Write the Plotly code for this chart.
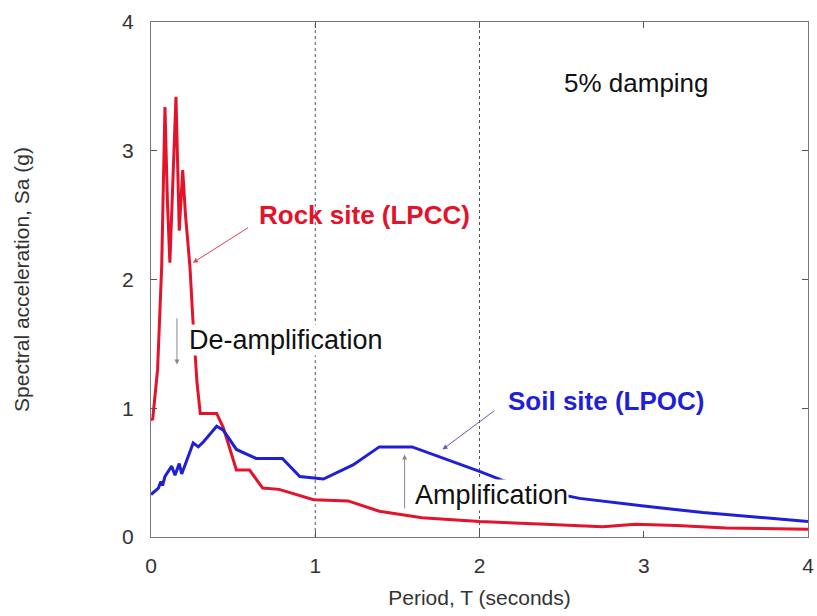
import plotly.graph_objects as go

# Rock site (LPCC) spectrum
T_rock = [0.0, 0.01, 0.04, 0.065, 0.085, 0.10, 0.115, 0.135, 0.152, 0.172, 0.193, 0.21, 0.237,
          0.255, 0.28, 0.30, 0.40, 0.44, 0.52, 0.60, 0.68, 0.78, 0.99, 1.2, 1.39, 1.65,
          2.0, 2.4, 2.75, 2.95, 3.2, 3.5, 4.0]
Sa_rock = [0.92, 0.91, 1.3, 2.1, 3.34, 2.6, 2.13, 2.9, 3.42, 2.38, 2.85, 2.5, 2.1,
           1.69, 1.2, 0.96, 0.96, 0.85, 0.52, 0.52, 0.38, 0.37, 0.29, 0.28, 0.20, 0.15,
           0.12, 0.10, 0.08, 0.10, 0.09, 0.07, 0.06]

# Soil site (LPOC) spectrum
T_soil = [0.0, 0.01, 0.045, 0.06, 0.07, 0.085, 0.095, 0.126, 0.146, 0.172, 0.187, 0.257, 0.288,
          0.32, 0.40, 0.44, 0.52, 0.64, 0.80, 0.906, 1.05, 1.23, 1.39, 1.59, 2.0, 2.14,
          2.3, 2.61, 3.0, 3.36, 4.0]
Sa_soil = [0.33, 0.34, 0.38, 0.43, 0.40, 0.47, 0.49, 0.55, 0.48, 0.57, 0.49, 0.73, 0.70,
           0.74, 0.86, 0.83, 0.68, 0.61, 0.61, 0.47, 0.45, 0.56, 0.70, 0.70, 0.51, 0.44,
           0.38, 0.30, 0.24, 0.19, 0.12]

tick_vals = [0, 1, 2, 3, 4]
tick_text = ["0", "1", "2", "3", "4"]

RED = "#e3132b"
BLUE = "#1f1fd6"
FONT = "Liberation Sans, Arial, sans-serif"

fig = go.Figure()
fig.add_trace(go.Scatter(x=T_rock, y=Sa_rock, mode="lines",
                         line=dict(color=RED, width=3), showlegend=False))
fig.add_trace(go.Scatter(x=T_soil, y=Sa_soil, mode="lines",
                         line=dict(color=BLUE, width=3), showlegend=False))

# dotted vertical grid lines
for gx in [1, 2]:
    fig.add_shape(type="line", x0=gx, x1=gx, y0=0, y1=4, xref="x", yref="y",
                  line=dict(color="#555555", width=1, dash="dot"), layer="below")

# arrows
arrows = [
    dict(x=0.255, y=2.13, ax=0.60, ay=2.41, color="#e0405a"),
    dict(x=1.775, y=0.68, ax=2.10, ay=0.99, color="#5a5ac8"),
    dict(x=0.158, y=1.34, ax=0.158, ay=1.71, color="#888888"),
    dict(x=1.544, y=0.64, ax=1.544, ay=0.21, color="#888888"),
]
for a in arrows:
    fig.add_annotation(x=a["x"], y=a["y"], ax=a["ax"], ay=a["ay"], xref="x", yref="y",
                       axref="x", ayref="y", text="", showarrow=True, arrowhead=2,
                       arrowsize=1, arrowwidth=1, arrowcolor=a["color"])

texts = [
    dict(x=1.30, y=2.50, text="<b>Rock site (LPCC)</b>", color=RED, size=26, bg=None),
    dict(x=2.77, y=1.06, text="<b>Soil site (LPOC)</b>", color=BLUE, size=26, bg=None),
    dict(x=0.82, y=1.53, text="De-amplification", color="#111111", size=27, bg="white"),
    dict(x=2.07, y=0.33, text="Amplification", color="#111111", size=27, bg="white"),
    dict(x=2.955, y=3.53, text="5% damping", color="#111111", size=26, bg=None),
]
for t in texts:
    kw = dict(x=t["x"], y=t["y"], xref="x", yref="y", text=t["text"], showarrow=False,
              font=dict(family=FONT, size=t["size"], color=t["color"]))
    if t["bg"]:
        kw["bgcolor"] = t["bg"]
        kw["borderpad"] = 0
    fig.add_annotation(**kw)

axis_common = dict(range=[0, 4], tickvals=tick_vals, ticktext=tick_text, ticks="inside",
                   ticklen=6, tickcolor="#555555", showline=True, linecolor="#777777",
                   linewidth=1, mirror="ticks", showgrid=False, zeroline=False,
                   tickfont=dict(family=FONT, size=21, color="#333333"))

fig.update_xaxes(**axis_common, ticklabelstandoff=10, automargin=False,
                 title=dict(text="Period, T (seconds)", standoff=14,
                            font=dict(family=FONT, size=21, color="#333333")))
fig.update_yaxes(**axis_common, ticklabelstandoff=12, automargin=True,
                 title=dict(text="Spectral acceleration, Sa (g)", standoff=86,
                            font=dict(family=FONT, size=21, color="#333333")))

fig.update_layout(width=817, height=616, margin=dict(l=151, r=9, t=22, b=79),
                  paper_bgcolor="white", plot_bgcolor="white")

fig.write_html("out.html")
